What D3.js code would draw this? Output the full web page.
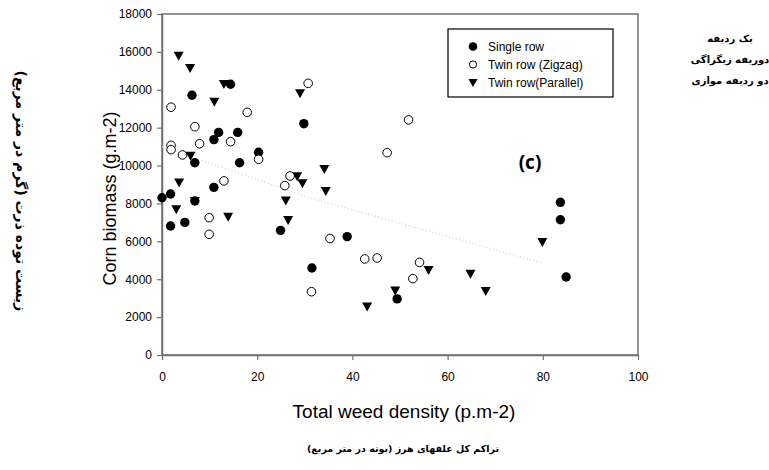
<!DOCTYPE html>
<html>
<head>
<meta charset="utf-8">
<script src="https://cdn.jsdelivr.net/npm/d3@7"></script>
<style>
  body { margin: 0; background: #fff; }
  svg { font-family: Arial, "Liberation Sans", sans-serif; }
</style>
</head>
<body>
<div id="chart"></div>
<script>
// values: [weed density, corn biomass]
const singleRow = [
  [0, 8300], [1.8, 8500], [1.8, 6810], [4.8, 7000], [6.3, 13710], [6.9, 10150],
  [6.9, 8130], [10.9, 11370], [10.9, 8850], [11.9, 11750], [14.4, 14290], [15.9, 11750],
  [16.3, 10150], [20.3, 10700], [24.9, 6580], [29.8, 12210], [31.5, 4590], [38.9, 6250],
  [49.4, 2960], [83.7, 8060], [83.7, 7140], [84.9, 4120]
];
const twinZigzag = [
  [1.9, 13080], [1.9, 11070], [1.9, 10840], [4.3, 10560], [6.9, 12050], [7.9, 11150],
  [9.9, 7250], [9.9, 6370], [13.0, 9190], [14.4, 11260], [17.9, 12810], [20.3, 10330],
  [25.8, 8940], [26.9, 9450], [30.7, 14340], [31.4, 3340], [35.3, 6150], [42.6, 5070],
  [45.2, 5120], [47.3, 10680], [51.8, 12410], [52.7, 4030], [54.1, 4890]
];
const twinParallel = [
  [3.5, 15800], [5.9, 15150], [13.0, 14310], [11.0, 13370], [29.0, 13820], [6.0, 10520],
  [3.6, 9100], [28.4, 9430], [29.5, 9060], [34.1, 9820], [34.4, 8660], [3.0, 7690],
  [6.9, 8130], [13.9, 7300], [26.0, 8150], [26.5, 7130], [43.1, 2560], [49.0, 3410],
  [56.0, 4490], [64.8, 4290], [68.0, 3380], [79.9, 5970]
];
// faint dotted trend line
const trendLine = [[0, 11000], [31, 8300], [80, 4850]];

const xTicks = [0, 20, 40, 60, 80, 100];
const yTicks = [0, 2000, 4000, 6000, 8000, 10000, 12000, 14000, 16000, 18000];
const legendLabels = ['Single row', 'Twin row (Zigzag)', 'Twin row(Parallel)'];
const faLegend = ['یک ردیفه', 'دوریفه زیگزاگی', 'دو ردیفه موازی'];
const yTitle = 'Corn biomass (g.m-2)';
const xTitle = 'Total weed density (p.m-2)';
const yTitleFa = 'زیست توده ذرت (گرم در متر مربع)';
const xTitleFa = 'تراکم کل علفهای هرز (بوته در متر مربع)';

const W = 769, H = 470;
const margin = {top: 14, right: 131, bottom: 115, left: 162};
const width = W - margin.left - margin.right;
const height = H - margin.top - margin.bottom;
const axisColor = '#707070';

const svg = d3.select('#chart').append('svg')
  .attr('width', W)
  .attr('height', H);

const g = svg.append('g')
  .attr('transform', `translate(${margin.left},${margin.top})`);

const x = d3.scaleLinear().domain([0, 100]).range([0, width]);
const y = d3.scaleLinear().domain([0, 18000]).range([height, 0]);

// frame
g.append('rect')
  .attr('width', width)
  .attr('height', height)
  .attr('fill', 'none')
  .attr('stroke', axisColor)
  .attr('stroke-width', 1.5);

// axes
const xAxis = g.append('g')
  .attr('transform', `translate(0,${height})`)
  .call(d3.axisBottom(x).tickValues(xTicks).tickSize(5).tickPadding(12).tickSizeOuter(0));
const yAxis = g.append('g')
  .call(d3.axisLeft(y).tickValues(yTicks).tickSize(5).tickPadding(5).tickSizeOuter(0).tickFormat(d3.format('d')));

[xAxis, yAxis].forEach(a => {
  a.select('.domain').attr('stroke', axisColor).attr('stroke-width', 1.5);
  a.selectAll('.tick line').attr('stroke', axisColor).attr('stroke-width', 1.2);
  a.selectAll('.tick text')
    .attr('fill', '#000')
    .style('font-size', '12px')
    .style('font-family', 'Arial, "Liberation Sans", sans-serif');
});

// trend line
g.append('path')
  .datum(trendLine)
  .attr('fill', 'none')
  .attr('stroke', '#d6d6d6')
  .attr('stroke-width', 1.5)
  .attr('stroke-dasharray', '1,2.5')
  .attr('d', d3.line().x(d => x(d[0])).y(d => y(d[1])));

const triPath = 'M-5,-4 L5,-4 L0,5 Z';

g.selectAll('.single')
  .data(singleRow)
  .enter().append('circle')
    .attr('class', 'single')
    .attr('cx', d => x(d[0]))
    .attr('cy', d => y(d[1]))
    .attr('r', 4.7)
    .attr('fill', '#000');

g.selectAll('.parallel')
  .data(twinParallel)
  .enter().append('path')
    .attr('class', 'parallel')
    .attr('transform', d => `translate(${x(d[0])},${y(d[1])})`)
    .attr('d', triPath)
    .attr('fill', '#000');

g.selectAll('.zigzag')
  .data(twinZigzag)
  .enter().append('circle')
    .attr('class', 'zigzag')
    .attr('cx', d => x(d[0]))
    .attr('cy', d => y(d[1]))
    .attr('r', 4.3)
    .attr('fill', '#fff')
    .attr('stroke', '#000')
    .attr('stroke-width', 1);

// legend
const legend = svg.append('g').attr('transform', 'translate(448,29)');
legend.append('rect')
  .attr('width', 165)
  .attr('height', 68)
  .attr('fill', '#fff')
  .attr('stroke', '#000')
  .attr('stroke-width', 1.2);

legendLabels.forEach((label, i) => {
  const row = legend.append('g').attr('transform', `translate(25,${17.5 + i * 18})`);
  if (i === 0) row.append('circle').attr('r', 4.3).attr('fill', '#000');
  if (i === 1) row.append('circle').attr('r', 3.6).attr('fill', '#fff').attr('stroke', '#000');
  if (i === 2) row.append('path').attr('d', 'M-4.5,-3.5 L4.5,-3.5 L0,4.5 Z').attr('fill', '#000');
  row.append('text')
    .attr('x', 15)
    .attr('dy', '0.35em')
    .style('font-size', '12px')
    .text(label);
});

// panel label
svg.append('text')
  .attr('x', 530)
  .attr('y', 169)
  .attr('text-anchor', 'middle')
  .style('font-size', '19px')
  .style('font-weight', 'bold')
  .style('font-family', '"Open Sans", "DejaVu Sans", sans-serif')
  .text('(c)');

// axis titles
svg.append('text')
  .attr('transform', `translate(116,${margin.top + height / 2 + 14}) rotate(-90)`)
  .attr('text-anchor', 'middle')
  .style('font-size', '18px')
  .text(yTitle);

svg.append('text')
  .attr('x', 404)
  .attr('y', 418)
  .attr('text-anchor', 'middle')
  .style('font-size', '19px')
  .text(xTitle);

// persian labels
const faFont = '"DejaVu Sans", "Noto Sans", sans-serif';
svg.append('text')
  .attr('transform', 'translate(16,191) rotate(90)')
  .attr('text-anchor', 'middle')
  .style('font-size', '14px')
  .style('font-weight', 'bold')
  .style('font-family', faFont)
  .text(yTitleFa);

svg.append('text')
  .attr('x', 403)
  .attr('y', 452)
  .attr('text-anchor', 'middle')
  .style('font-size', '9.5px')
  .style('font-weight', 'bold')
  .style('font-family', faFont)
  .text(xTitleFa);

faLegend.forEach((t, i) => {
  svg.append('text')
    .attr('x', 730)
    .attr('y', 42 + i * 21)
    .attr('text-anchor', 'middle')
    .style('font-size', '10px')
    .style('font-weight', 'bold')
    .style('font-family', faFont)
    .text(t);
});
</script>
</body>
</html>
